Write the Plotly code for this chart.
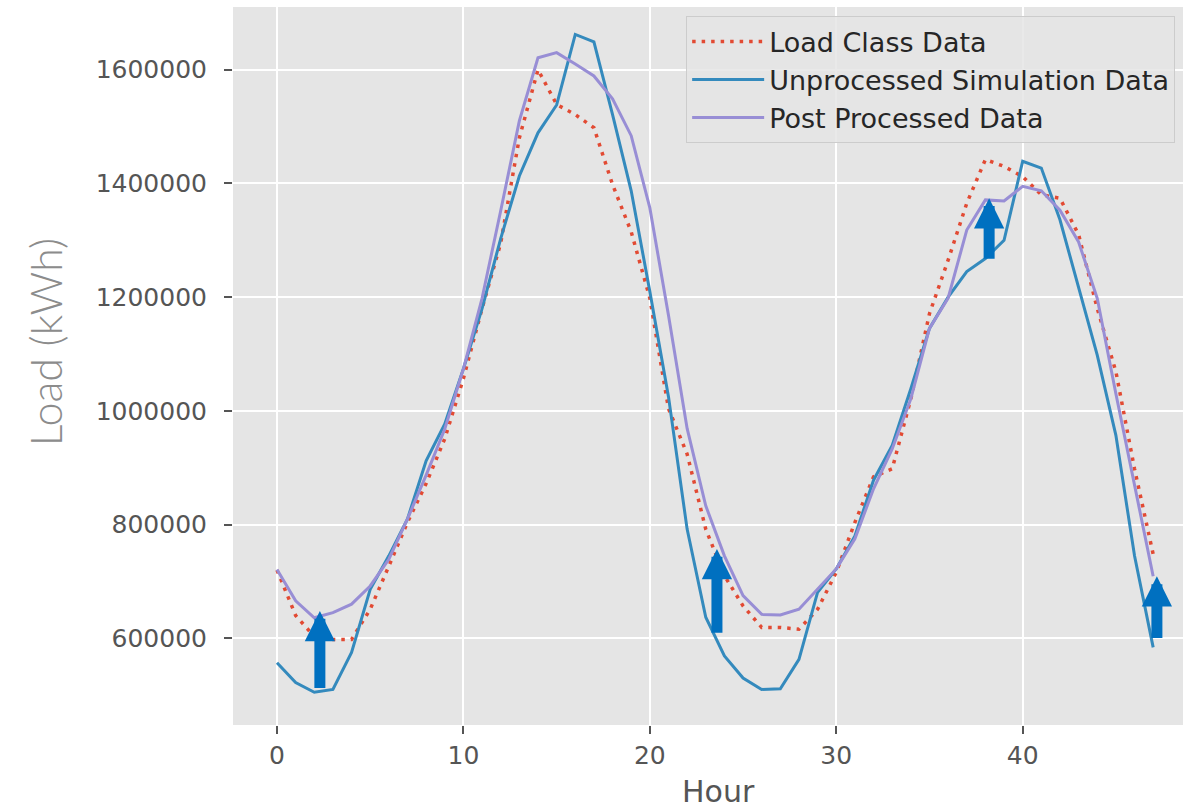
import plotly.graph_objects as go

hours = list(range(48))

load_class = [720000, 640000, 603000, 598000, 598000, 651000, 727000, 804000, 872000, 951000,
              1057000, 1180000, 1295000, 1480000, 1600000, 1539000, 1521000, 1498000, 1398000, 1315000,
              1198000, 1004000, 924000, 792000, 710000, 657000, 619000, 619000, 616000, 651000,
              716000, 804000, 884000, 898000, 1021000, 1171000, 1265000, 1365000, 1442000, 1430000,
              1412000, 1380000, 1374000, 1310000, 1180000, 1069000, 898000, 748000]

unprocessed = [557000, 522000, 505000, 510000, 575000, 686000, 745000, 810000, 912000, 977000,
               1074000, 1180000, 1303000, 1413000, 1489000, 1538000, 1662000, 1649000, 1521000, 1387000,
               1210000, 1025000, 792000, 637000, 569000, 530000, 510000, 511000, 563000, 681000,
               722000, 780000, 878000, 939000, 1039000, 1145000, 1200000, 1245000, 1268000, 1300000,
               1439000, 1427000, 1336000, 1215000, 1098000, 957000, 745000, 584000]

post_processed = [721000, 666000, 636000, 645000, 660000, 692000, 739000, 810000, 887000, 968000,
                  1074000, 1198000, 1352000, 1510000, 1621000, 1630000, 1610000, 1589000, 1549000, 1484000,
                  1357000, 1168000, 969000, 833000, 745000, 675000, 642000, 641000, 651000, 686000,
                  722000, 775000, 863000, 933000, 1021000, 1145000, 1198000, 1318000, 1371000, 1369000,
                  1395000, 1387000, 1353000, 1297000, 1198000, 1030000, 868000, 709000]

series_names = ["Load Class Data", "Unprocessed Simulation Data", "Post Processed Data"]
series_colors = ["#E24A33", "#348ABD", "#988ED5"]

# highlight arrows: (hour, tail value, tip value)
arrow_x = [2.3, 23.6, 38.2, 47.2]
arrow_tail = [510000, 607000, 1265000, 598000]
arrow_tip = [648000, 757000, 1374000, 709000]

x_ticks = [0, 10, 20, 30, 40]
y_ticks = [600000, 800000, 1000000, 1200000, 1400000, 1600000]
y_tick_labels = [str(v) for v in y_ticks]

fig = go.Figure()
fig.add_trace(go.Scatter(x=hours, y=load_class, mode="lines", name=series_names[0], legendgroup="a",
                         line=dict(color=series_colors[0], width=3.5, dash="3.5px,6px")))
fig.add_trace(go.Scatter(x=hours, y=unprocessed, mode="lines", name=series_names[1], legendgroup="b",
                         line=dict(color=series_colors[1], width=3)))
fig.add_trace(go.Scatter(x=hours, y=post_processed, mode="lines", name=series_names[2], legendgroup="c",
                         line=dict(color=series_colors[2], width=3)))

annotations = []
for xa, yt, yh in zip(arrow_x, arrow_tail, arrow_tip):
    annotations.append(dict(x=xa, y=yh, ax=xa, ay=yt, xref="x", yref="y", axref="x", ayref="y",
                            showarrow=True, arrowhead=2, arrowsize=0.55, arrowwidth=11,
                            arrowcolor="#0070C0", text=""))

annotations.append(dict(text="Load (kWh)", xref="paper", yref="paper", x=-0.198, y=0.533,
                        xanchor="center", yanchor="middle", textangle=-90, showarrow=False,
                        font=dict(family="Lato", size=43, color="#8c8c8c", weight=300)))
annotations.append(dict(text="Hour", xref="paper", yref="paper", x=0.5114, y=-0.093,
                        xanchor="center", yanchor="middle", showarrow=False,
                        font=dict(family="DejaVu Sans", size=30, color="#555555")))
fig.update_layout(annotations=annotations)

fig.update_layout(
    width=1183, height=809,
    margin=dict(l=233, r=0, t=7, b=84),
    paper_bgcolor="white",
    plot_bgcolor="#E5E5E5",
    font=dict(family="DejaVu Sans", size=25, color="#555555"),
    showlegend=True,
    legend=dict(x=0.477, y=0.987, xanchor="left", yanchor="top",
                bgcolor="rgba(229,229,229,0.85)", bordercolor="#CCCCCC", borderwidth=1,
                font=dict(family="DejaVu Sans", size=27, color="#262626"),
                tracegroupgap=0, itemwidth=72),
)
fig.update_xaxes(range=[-2.36, 48.6], tickvals=x_ticks, ticks="outside", ticklen=8, tickwidth=1.5,
                 tickcolor="#555555", showgrid=True, gridcolor="white", gridwidth=1.6,
                 zeroline=False, showline=False, tickfont=dict(size=25, color="#555555"))
fig.update_yaxes(range=[447450, 1710300], tickvals=y_ticks, ticktext=y_tick_labels, ticks="outside",
                 ticklen=8, tickwidth=1.5,
                 tickcolor="#555555", showgrid=True, gridcolor="white", gridwidth=1.6,
                 zeroline=False, showline=False, tickfont=dict(size=25, color="#555555"),
                 ticklabelstandoff=12)

fig.write_html("out.html")
